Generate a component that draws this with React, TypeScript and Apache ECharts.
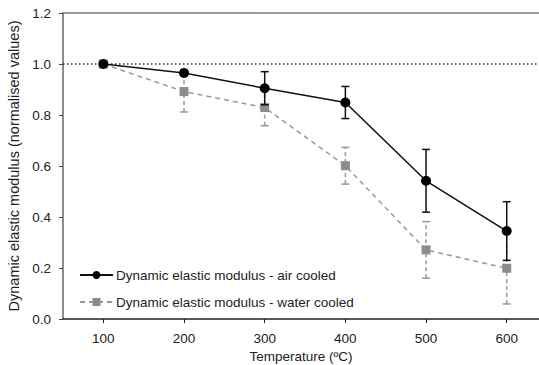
import React, { useEffect, useRef } from "react";
import * as echarts from "echarts";

const temps = [100, 200, 300, 400, 500, 600];
const airValues = [1.0, 0.965, 0.905, 0.849, 0.542, 0.345];
const airErr = [0, 0.01, 0.065, 0.063, 0.123, 0.115];
const waterValues = [1.0, 0.892, 0.829, 0.601, 0.271, 0.199];
const waterErr = [0, 0.08, 0.071, 0.072, 0.111, 0.14];
const xTicks = [100, 200, 300, 400, 500, 600];
const yTicks = [0, 0.2, 0.4, 0.6, 0.8, 1.0, 1.2];

const airName = "Dynamic elastic modulus - air cooled";
const waterName = "Dynamic elastic modulus - water cooled";
const FONT = "Liberation Sans, Arial, sans-serif";

function errorSeries(name: string, values: number[], errs: number[], color: string, dashed: boolean) {
  return {
    type: "custom",
    name: name + " err",
    z: dashed ? 2 : 4,
    data: temps.map((t, i) => [t, values[i] - errs[i], values[i] + errs[i]]),
    renderItem: (_params: any, api: any) => {
      const x = api.value(0);
      const lo = api.coord([x, api.value(1)]);
      const hi = api.coord([x, api.value(2)]);
      const w = 4;
      const style = { stroke: color, lineWidth: 1.5, lineDash: dashed ? [4, 3] : null };
      const cap = { stroke: color, lineWidth: 1.5 };
      return {
        type: "group",
        children: [
          { type: "line", shape: { x1: lo[0], y1: lo[1], x2: hi[0], y2: hi[1] }, style },
          { type: "line", shape: { x1: lo[0] - w, y1: lo[1], x2: lo[0] + w, y2: lo[1] }, style: cap },
          { type: "line", shape: { x1: hi[0] - w, y1: hi[1], x2: hi[0] + w, y2: hi[1] }, style: cap },
        ],
      };
    },
    silent: true,
    legendHoverLink: false,
  };
}

export default function App() {
  const ref = useRef<HTMLDivElement>(null);
  useEffect(() => {
    if (!ref.current) return;
    const chart = echarts.init(ref.current, undefined, { renderer: "svg" });
    chart.setOption({
      animation: false,
      backgroundColor: "#ffffff",
      textStyle: { fontFamily: FONT },
      grid: { left: 63, right: 0, top: 13, bottom: 46, outerBoundsMode: "none", containLabel: false },
      legend: {
        data: [airName, waterName],
        orient: "vertical",
        left: 74,
        top: 263,
        itemWidth: 33,
        itemHeight: 10,
        itemGap: 13,
        textStyle: { color: "#222", fontSize: 13.5, fontFamily: FONT, padding: [0, 0, 0, -2] },
      },
      xAxis: [
        {
          type: "value",
          min: 50,
          max: 640,
          interval: 50,
          axisLine: { show: true, lineStyle: { color: "#222", width: 1.5 } },
          axisTick: { show: true, inside: false, length: 4, lineStyle: { color: "#222" }, customValues: xTicks },
          axisLabel: { color: "#222", fontSize: 13.5, margin: 12, customValues: xTicks },
          splitLine: { show: false },
          name: "Temperature (ºC)",
          nameLocation: "middle",
          nameGap: 30,
          nameTextStyle: { color: "#222", fontSize: 13.5 },
        },
        {
          type: "value",
          position: "top",
          min: 50,
          max: 640,
          axisLine: { show: true, lineStyle: { color: "#777", width: 1.5 } },
          axisTick: { show: false },
          axisLabel: { show: false },
          splitLine: { show: false },
        },
      ],
      yAxis: {
        type: "value",
        min: 0,
        max: 1.2,
        interval: 0.2,
        axisLine: { show: true, lineStyle: { color: "#666", width: 1.5 } },
        axisTick: { show: true, length: 4, lineStyle: { color: "#444" }, customValues: yTicks },
        axisLabel: {
          color: "#222",
          fontSize: 13.5,
          margin: 12,
          formatter: (v: number) => v.toFixed(1),
        },
        splitLine: { show: false },
        name: "Dynamic elastic modulus (normalised values)",
        nameLocation: "middle",
        nameGap: 39,
        nameTextStyle: { color: "#222", fontSize: 14.5 },
      },
      series: [
        errorSeries(waterName, waterValues, waterErr, "#999999", true),
        {
          type: "line",
          name: waterName,
          z: 3,
          data: temps.map((t, i) => [t, waterValues[i]]),
          symbol: "rect",
          symbolSize: 9,
          itemStyle: { color: "#8c8c8c" },
          lineStyle: { color: "#999999", width: 1.5, type: [5, 4] },
          markLine: {
            silent: true,
            symbol: "none",
            label: { show: false },
            lineStyle: { color: "#333", type: [1.5, 2.5], width: 1.5 },
            data: [{ yAxis: 1.0 }],
          },
        },
        errorSeries(airName, airValues, airErr, "#111111", false),
        {
          type: "line",
          name: airName,
          z: 5,
          data: temps.map((t, i) => [t, airValues[i]]),
          symbol: "circle",
          symbolSize: 10,
          itemStyle: { color: "#000" },
          lineStyle: { color: "#111", width: 1.5 },
        },
      ],
    });
    return () => chart.dispose();
  }, []);
  return <div ref={ref} style={{ width: 539, height: 365, position: "absolute", left: 0, top: 0 }} />;
}
